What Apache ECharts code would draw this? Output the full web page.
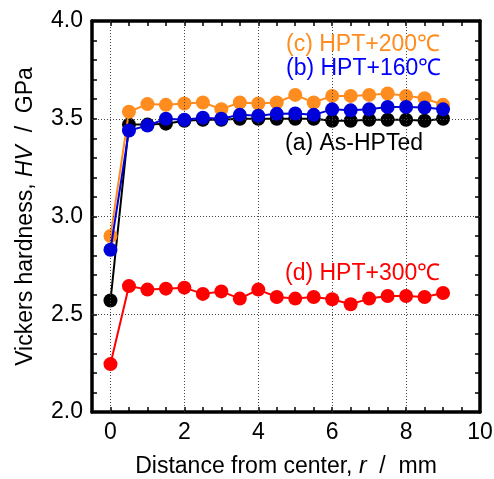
<!DOCTYPE html>
<html><head><meta charset="utf-8">
<script src="https://cdn.jsdelivr.net/npm/echarts@6/dist/echarts.min.js"></script>
<style>html,body{margin:0;padding:0;background:#fff}#c{width:494px;height:479px}</style>
</head><body><div id="c"></div>
<script>
const distances = [0,0.5,1,1.5,2,2.5,3,3.5,4,4.5,5,5.5,6,6.5,7,7.5,8,8.5,9];
const asHPTed  = [2.57,3.47,3.47,3.475,3.49,3.495,3.495,3.5,3.5,3.5,3.5,3.5,3.49,3.49,3.495,3.495,3.495,3.49,3.5];
const hpt160   = [2.83,3.44,3.465,3.5,3.495,3.505,3.5,3.52,3.515,3.525,3.527,3.52,3.548,3.543,3.548,3.56,3.56,3.557,3.548];
const hpt200   = [2.90,3.536,3.575,3.571,3.578,3.583,3.549,3.583,3.578,3.583,3.622,3.583,3.617,3.617,3.622,3.629,3.617,3.605,3.571];
const hpt300   = [2.245,2.644,2.626,2.631,2.636,2.604,2.617,2.58,2.626,2.588,2.58,2.588,2.577,2.551,2.58,2.593,2.593,2.588,2.609];
const seriesNames = ['(a) As-HPTed','(b) HPT+160℃','(c) HPT+200℃','(d) HPT+300℃'];
const xTickLabels = [0,2,4,6,8,10];
const yTickLabels = [2.0,2.5,3.0,3.5,4.0];
const xGrid = [0,2,4,6,8];
const yGrid = [2.5,3.0,3.5];

const FONT = '"Liberation Sans", Arial, sans-serif';
const FS = 23;
const pairs = v => distances.map((x,i)=>[x,v[i]]);
const chart = echarts.init(document.getElementById('c'), null, {renderer:'canvas'});

const baseX = {
  type:'value', min:-0.5, max:10, interval:0.5,
  axisLine:{show:true, onZero:false, lineStyle:{color:'#000', width:3.5}},
  axisTick:{show:true, inside:true, length:5, lineStyle:{color:'#000', width:1.5}},
  splitLine:{show:false}
};
const baseY = {
  type:'value', min:2, max:4, interval:0.1,
  axisLine:{show:true, onZero:false, lineStyle:{color:'#000', width:3.5}},
  axisTick:{show:true, inside:true, length:5, lineStyle:{color:'#000', width:1.5}},
  splitLine:{show:false}
};
const showX = v => xTickLabels.some(t => Math.abs(t - v) < 1e-6);
const showY = v => yTickLabels.some(t => Math.abs(t - v) < 1e-6);

function mk(name, data, color, z){
  return {
    name, type:'line', data:pairs(data), z,
    symbol:'circle', symbolSize:14,
    lineStyle:{color, width:2}, itemStyle:{color},
    animation:false
  };
}

const gridSeries = {
  type:'line', data:[[xGrid[0], yGrid[0]]], z:1, silent:true, animation:false,
  symbol:'none', lineStyle:{opacity:0}, itemStyle:{opacity:0},
  markLine:{
    silent:true, symbol:['none','none'], label:{show:false}, animation:false,
    lineStyle:{type:[1,2], color:'#444', width:1},
    data: xGrid.map(v=>({xAxis:v})).concat(yGrid.map(v=>({yAxis:v})))
  }
};

const rich = {
  n:{fontFamily:FONT, fontSize:FS, color:'#000'},
  i:{fontFamily:FONT, fontSize:FS, color:'#000', fontStyle:'italic'}
};

chart.setOption({
  animation:false,
  backgroundColor:'#fff',
  grid:{left:92, right:14, top:21, bottom:67, outerBoundsMode:'none', containLabel:false},
  xAxis:[
    Object.assign({}, baseX, {
      position:'bottom',
      name:'{n|Distance from center, }{i|r}{n|  /  mm}',
      nameLocation:'middle', nameGap:43,
      nameTextStyle:{rich},
      axisLabel:{show:true, margin:9, fontFamily:FONT, fontSize:FS, color:'#000',
        formatter:v => showX(v) ? String(Math.round(v)) : '', showMinLabel:true, showMaxLabel:true}
    }),
    Object.assign({}, baseX, {position:'top', axisLabel:{show:false}})
  ],
  yAxis:[
    Object.assign({}, baseY, {
      position:'left',
      name:'{n|Vickers hardness, }{i|HV}{n|  /  GPa}',
      nameLocation:'middle', nameGap:55, nameRotate:90,
      nameTextStyle:{rich},
      axisLabel:{show:true, margin:9, fontFamily:FONT, fontSize:FS, color:'#000',
        formatter:v => showY(v) ? v.toFixed(1) : '', showMinLabel:true, showMaxLabel:true}
    }),
    Object.assign({}, baseY, {position:'right', axisLabel:{show:false}})
  ],
  series:[
    gridSeries,
    mk(seriesNames[0], asHPTed, '#000000', 3),
    mk(seriesNames[2], hpt200, '#FF8C1E', 4),
    mk(seriesNames[1], hpt160, '#0000D8', 5),
    mk(seriesNames[3], hpt300, '#FF0000', 6)
  ],
  graphic:[
    {type:'text', left:286, top:33, z:10, style:{text:seriesNames[2], fill:'#FF8C1E', font:FS+'px '+FONT}},
    {type:'text', left:286, top:57, z:10, style:{text:seriesNames[1], fill:'#0000FF', font:FS+'px '+FONT}},
    {type:'text', left:285, top:132, z:10, style:{text:seriesNames[0], fill:'#000', font:FS+'px '+FONT}},
    {type:'text', left:285, top:262, z:10, style:{text:seriesNames[3], fill:'#FF0000', font:FS+'px '+FONT}}
  ]
});
</script></body></html>
